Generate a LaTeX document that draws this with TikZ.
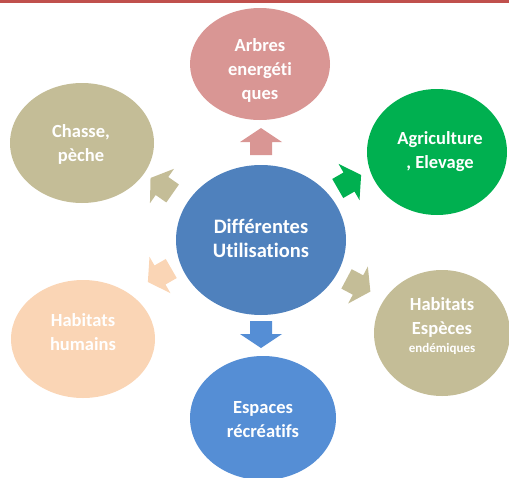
\documentclass[tikz,border=0pt]{standalone}
\usepackage{fontspec}
\setmainfont{Carlito}[Ligatures=NoCommon]
\begin{document}
\begin{tikzpicture}[x=1pt,y=-1pt,
  lbl/.style={text=white,font=\bfseries\fontsize{#1}{24}\selectfont,align=center,inner sep=0pt},
  lbl/.default=19,
  blockarrow/.pic={\fill[pic actions] (-13,-11) -- (0,-11) -- (0,-21) -- (14,0) -- (0,21) -- (0,11) -- (-13,11) -- cycle;}
]
\definecolor{cCenter}{HTML}{4F81BD}
\definecolor{cPink}{HTML}{D99694}
\definecolor{cGreen}{HTML}{00B050}
\definecolor{cTan}{HTML}{C4BD97}
\definecolor{cBlue}{HTML}{558ED5}
\definecolor{cPeach}{HTML}{FAD5B5}
\definecolor{cRule}{HTML}{C0504D}
\useasboundingbox (0,0) rectangle (509,477);
\fill[cRule] (0,0) rectangle (509,2.5);

% satellite bubbles
\fill[cPink]   (260,64)  ellipse [x radius=70,y radius=56];
\fill[cGreen]  (437,152) ellipse [x radius=70,y radius=63];
\fill[cTan]    (442,333) ellipse [x radius=68,y radius=63];
\fill[cBlue]   (263,418) ellipse [x radius=73,y radius=62];
\fill[cPeach]  (83,339)  ellipse [x radius=72,y radius=59];
\fill[cTan]    (82,143)  ellipse [x radius=72,y radius=60];
% central bubble
\fill[cCenter] (261,240) ellipse [x radius=85,y radius=75];

% block arrows pointing outward from the centre
\pic[fill=cPink,  rotate=90]   at (261,142) {blockarrow};
\pic[fill=cBlue,  rotate=-90]  at (261,334) {blockarrow};
\pic[fill=cTan,   rotate=145]  at (162,186) {blockarrow};
\pic[fill=cGreen, rotate=30]   at (349,182) {blockarrow};
\pic[fill=cPeach, rotate=-150] at (160,275) {blockarrow};
\pic[fill=cTan,   rotate=-28]  at (358,285) {blockarrow};

% labels
\node[lbl=20.5] (center) at (261,238) {Différentes\\Utilisations};
\node[lbl=18.5] (arbres) at (260,70)  {Arbres\\energéti\\ques};
\node[lbl=18.5] (chasse) at (81,144)  {Chasse,\\pèche};
\node[lbl=18.5] (agri)   at (440,152) {Agriculture\\, Elevage};
\node[lbl=18.5] (hum)    at (83,332)  {Habitats\\humains};
\node[lbl=18.5] (esp)    at (263,420) {Espaces\\récréatifs};
\node[lbl=18.5] (endem)  at (442,326)
  {Habitats\\Espèces\\[-6pt]{\fontsize{13}{14}\selectfont endémiques}};
\end{tikzpicture}
\end{document}
